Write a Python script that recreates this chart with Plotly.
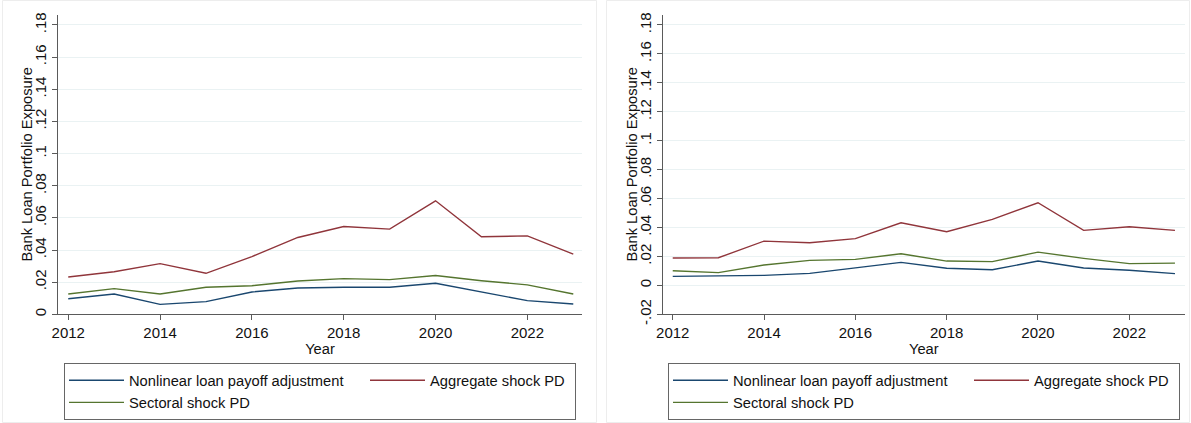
import plotly.graph_objects as go

# Years on the horizontal axis
years = list(range(2012, 2024))

# Left panel series
left_nonlinear = [0.0097, 0.0126, 0.0062, 0.0079, 0.0139, 0.0164, 0.0168, 0.0168, 0.0193, 0.0139, 0.0085, 0.0064]
left_aggregate = [0.0232, 0.0265, 0.0315, 0.0255, 0.0359, 0.0478, 0.0546, 0.0530, 0.0706, 0.0482, 0.0488, 0.0374]
left_sectoral = [0.0126, 0.0160, 0.0126, 0.0168, 0.0178, 0.0207, 0.0222, 0.0216, 0.0241, 0.0209, 0.0183, 0.0126]

# Right panel series
right_nonlinear = [0.0062, 0.0065, 0.0069, 0.0083, 0.0120, 0.0159, 0.0118, 0.0108, 0.0168, 0.0120, 0.0104, 0.0081]
right_aggregate = [0.0189, 0.0191, 0.0306, 0.0295, 0.0323, 0.0433, 0.0371, 0.0456, 0.0571, 0.0380, 0.0405, 0.0380]
right_sectoral = [0.0101, 0.0088, 0.0141, 0.0173, 0.0180, 0.0219, 0.0168, 0.0164, 0.0230, 0.0187, 0.0150, 0.0154]

series_names = ["Nonlinear loan payoff adjustment", "Sectoral shock PD", "Aggregate shock PD"]
series_colors = ["#1a476f", "#55752f", "#90353b"]

x_ticks = [2012, 2014, 2016, 2018, 2020, 2022]
left_yticks = [0, 0.02, 0.04, 0.06, 0.08, 0.10, 0.12, 0.14, 0.16, 0.18]
left_ytext = ["0", ".02", ".04", ".06", ".08", ".1", ".12", ".14", ".16", ".18"]
right_yticks = [-0.02] + left_yticks
right_ytext = ["-.02"] + left_ytext

y_title = "Bank Loan Portfolio Exposure"

FONT = "Liberation Sans, Arial, sans-serif"
W, H = 1191, 423

fig = go.Figure()

panels = [
    ("x", "y", "legend", [left_nonlinear, left_sectoral, left_aggregate]),
    ("x2", "y2", "legend2", [right_nonlinear, right_sectoral, right_aggregate]),
]
for xa, ya, leg, data in panels:
    for i, (name, color, vals) in enumerate(zip(series_names, series_colors, data)):
        fig.add_trace(go.Scatter(
            x=years, y=vals, mode="lines", name=name,
            line=dict(color=color, width=1.4),
            xaxis=xa, yaxis=ya, legend=leg,
            legendgroup=("col1" if i < 2 else "col2") + leg,
            legendwidth=231 if i < 2 else 139,
        ))

def px_x(p):
    return p / W

def px_y(p):
    return 1 - p / H

axis_common = dict(
    showline=True, linecolor="#5a5a5a", linewidth=1.2,
    ticks="outside", ticklen=5, tickcolor="#5a5a5a", tickwidth=1.2,
    tickfont=dict(family=FONT, size=15, color="#111111"),
    zeroline=False, automargin=False,
)

fig.update_layout(
    width=W, height=H,
    margin=dict(l=0, r=0, t=0, b=0),
    paper_bgcolor="white", plot_bgcolor="white",
    font=dict(family=FONT, color="#111111"),
    showlegend=True,
    xaxis=dict(domain=[px_x(58), px_x(582)], range=[2011.777, 2023.19],
               tickvals=x_ticks, anchor="y", showgrid=False,
               title=dict(text="Year", font=dict(size=14.7), standoff=3), **axis_common),
    yaxis=dict(domain=[px_y(314.3), px_y(15)], range=[0, 0.1862],
               tickvals=left_yticks, ticktext=left_ytext, tickangle=-90, anchor="x",
               showgrid=True, gridcolor="#eaf2f3", gridwidth=1.3, **axis_common),
    xaxis2=dict(domain=[px_x(662.7), px_x(1185)], range=[2011.78, 2023.22],
                tickvals=x_ticks, anchor="y2", showgrid=False,
                title=dict(text="Year", font=dict(size=14.7), standoff=3), **axis_common),
    yaxis2=dict(domain=[px_y(314.3), px_y(15)], range=[-0.02, 0.1869],
                tickvals=right_yticks, ticktext=right_ytext, tickangle=-90, anchor="x2",
                showgrid=True, gridcolor="#eaf2f3", gridwidth=1.3, **axis_common),
)

# Vertical y-axis titles, placed just left of the rotated tick labels
for xc in (27, 632):
    fig.add_annotation(text=y_title, textangle=-90, xref="paper", yref="paper",
                       x=px_x(xc), y=px_y(164.5), xanchor="center", yanchor="middle",
                       showarrow=False, font=dict(family=FONT, size=14.7, color="#111111"))

legend_common = dict(
    orientation="h", traceorder="grouped", tracegroupgap=10,
    xanchor="center", yanchor="top",
    bordercolor="#666666", borderwidth=1.2, bgcolor="white",
    font=dict(family=FONT, size=14.7, color="#111111"),
    itemwidth=55,
)
fig.update_layout(
    legend=dict(x=px_x(320), y=px_y(363), **legend_common),
    legend2=dict(x=px_x(924), y=px_y(363), **legend_common),
)

# Light frames around each graph region
for x0, x1 in [(2.5, 596.5), (606.5, 1189.5)]:
    fig.add_shape(type="rect", xref="paper", yref="paper",
                  x0=px_x(x0), x1=px_x(x1), y0=px_y(422.5), y1=px_y(0.5),
                  line=dict(color="#ededed", width=1), layer="below")

fig.write_html("out.html")
